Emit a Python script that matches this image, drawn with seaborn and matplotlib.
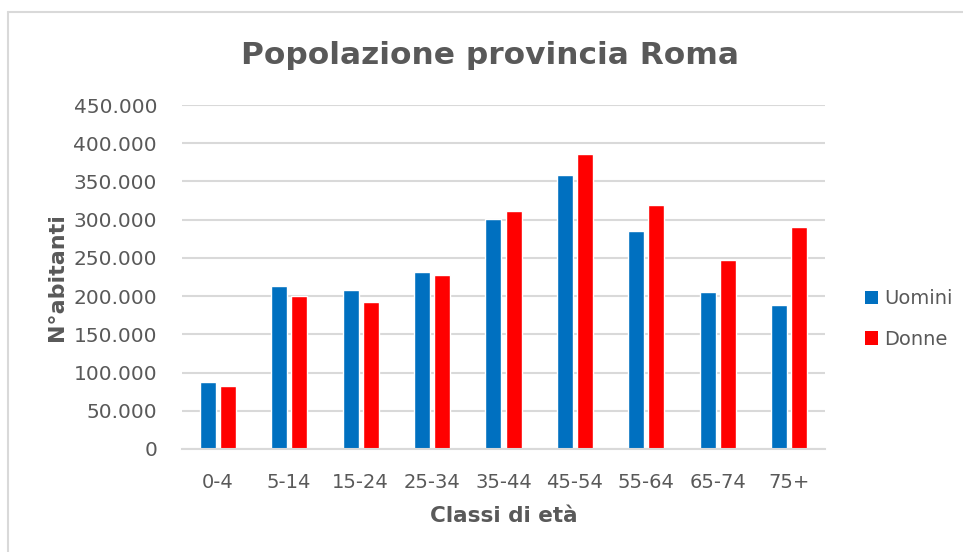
import pandas as pd
import seaborn as sns
import matplotlib.pyplot as plt
from matplotlib.patches import Patch
from matplotlib.lines import Line2D
from matplotlib.ticker import FuncFormatter

# Data
classi = ["0-4", "5-14", "15-24", "25-34", "35-44", "45-54", "55-64", "65-74", "75+"]
uomini = [87000, 213000, 208500, 231500, 300500, 358500, 285500, 205500, 188500]
donne = [82500, 200000, 192500, 227500, 311500, 386500, 319000, 247000, 290500]
serie = ["Uomini", "Donne"]
colori = ["#0070C0", "#FF0000"]

df = pd.DataFrame({
    "classe": classi * 2,
    "sesso": [serie[0]] * len(classi) + [serie[1]] * len(classi),
    "abitanti": uomini + donne,
})

grey = "#595959"
grid = "#d9d9d9"

sns.set_theme(style="white")
plt.rcParams["font.family"] = ["DejaVu Sans"]

fig = plt.figure(figsize=(9.63, 5.52), dpi=100)
ax = fig.add_axes([182 / 963, 103 / 552, 643 / 963, 344 / 552])

sns.barplot(data=df, x="classe", y="abitanti", hue="sesso", palette=colori,
            width=0.56, gap=0.2, saturation=1, legend=False, ax=ax)

ax.set_ylim(0, 450000)
ax.set_yticks(range(0, 450001, 50000))
ax.yaxis.set_major_formatter(FuncFormatter(lambda v, p: f"{int(v):,}".replace(",", ".")))
ax.grid(axis="y", color=grid, linewidth=1.5)
ax.set_axisbelow(True)
for s in ["top", "right", "left"]:
    ax.spines[s].set_visible(False)
ax.spines["bottom"].set_color(grid)
ax.spines["bottom"].set_linewidth(1.5)
ax.tick_params(axis="x", length=0, labelsize=14, colors=grey, pad=17)
ax.tick_params(axis="y", length=0, labelsize=14.5, colors=grey, pad=18)

ax.set_xlabel("Classi di età", fontsize=15.5, fontweight="bold", color=grey, labelpad=10)
ax.set_ylabel("N°abitanti", fontsize=16, fontweight="bold", color=grey)
ax.yaxis.set_label_coords(-0.179, 0.5)
fig.text(490 / 963, 1 - 55 / 552, "Popolazione provincia Roma", ha="center", va="center",
         fontsize=22.5, fontweight="bold", color=grey)

handles = [Patch(facecolor=c, edgecolor="none") for c in colori]
leg = fig.legend(handles, serie, loc="center left", bbox_to_anchor=(847 / 963, 1 - 319 / 552),
                 frameon=False, fontsize=14, handlelength=0.7, handleheight=0.7,
                 handletextpad=0.3, labelspacing=1.1, labelcolor=grey)

# chart border
fig.add_artist(Line2D([8 / 963, 8 / 963], [0, 1 - 12 / 552], transform=fig.transFigure,
                      color=grid, linewidth=1.5))
fig.add_artist(Line2D([8 / 963, 1], [1 - 12 / 552, 1 - 12 / 552], transform=fig.transFigure,
                      color=grid, linewidth=1.5))

fig.savefig("out.png", dpi=100)
